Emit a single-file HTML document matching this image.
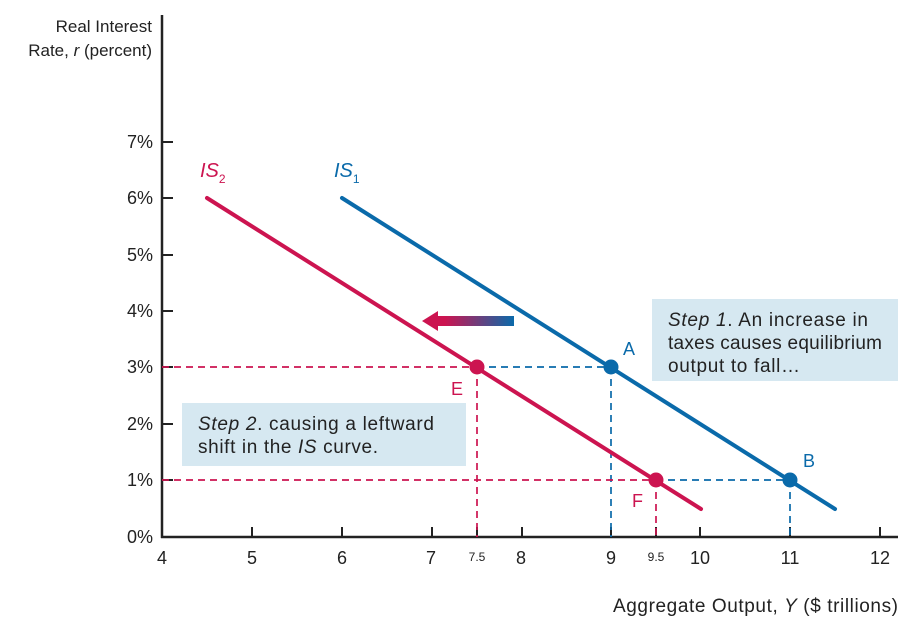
<!DOCTYPE html>
<html><head><meta charset="utf-8"><style>
body{margin:0;background:#fff}
svg{display:block;font-family:"Liberation Sans",sans-serif}
</style></head><body>
<svg width="917" height="623" viewBox="0 0 917 623">
<defs><linearGradient id="g" x1="0" x2="1"><stop offset="0.1" stop-color="#cc1450"/><stop offset="1" stop-color="#0a6aaa"/></linearGradient></defs>
<rect x="652" y="299" width="246" height="82" fill="#d6e8f1"/>
<rect x="182" y="403" width="284" height="63" fill="#d6e8f1"/>
<g stroke="#222" stroke-width="2.5" fill="none">
<line x1="162" y1="15" x2="162" y2="538"/>
<line x1="161" y1="537" x2="898" y2="537"/>
</g>
<g stroke="#222" stroke-width="2">
<line x1="162" y1="480" x2="173" y2="480"/><line x1="162" y1="424" x2="173" y2="424"/>
<line x1="162" y1="367" x2="173" y2="367"/><line x1="162" y1="311" x2="173" y2="311"/>
<line x1="162" y1="255" x2="173" y2="255"/><line x1="162" y1="198" x2="173" y2="198"/>
<line x1="162" y1="142" x2="173" y2="142"/>
<line x1="252" y1="537" x2="252" y2="527"/><line x1="342" y1="537" x2="342" y2="527"/>
<line x1="432" y1="537" x2="432" y2="527"/><line x1="477" y1="537" x2="477" y2="527"/>
<line x1="522" y1="537" x2="522" y2="527"/><line x1="611" y1="537" x2="611" y2="527"/>
<line x1="656" y1="537" x2="656" y2="527"/><line x1="700" y1="537" x2="700" y2="527"/>
<line x1="790" y1="537" x2="790" y2="527"/><line x1="880" y1="537" x2="880" y2="527"/>
</g>
<g stroke-width="1.7" stroke-dasharray="7,5" fill="none">
<line x1="162" y1="367" x2="477" y2="367" stroke="#cc1450"/>
<line x1="477" y1="367" x2="611" y2="367" stroke="#0a6aaa"/>
<line x1="477" y1="367" x2="477" y2="537" stroke="#cc1450"/>
<line x1="611" y1="367" x2="611" y2="537" stroke="#0a6aaa"/>
<line x1="162" y1="480" x2="656" y2="480" stroke="#cc1450"/>
<line x1="656" y1="480" x2="790" y2="480" stroke="#0a6aaa"/>
<line x1="656" y1="480" x2="656" y2="537" stroke="#cc1450"/>
<line x1="790" y1="480" x2="790" y2="537" stroke="#0a6aaa"/>
</g>
<line x1="342" y1="198" x2="835" y2="509" stroke="#0a6aaa" stroke-width="4" stroke-linecap="round"/>
<line x1="207" y1="198" x2="701" y2="509" stroke="#cc1450" stroke-width="4" stroke-linecap="round"/>
<circle cx="611" cy="367" r="7.5" fill="#0a6aaa"/><circle cx="790" cy="480" r="7.5" fill="#0a6aaa"/>
<circle cx="477" cy="367" r="7.5" fill="#cc1450"/><circle cx="656" cy="480" r="7.5" fill="#cc1450"/>
<rect x="437" y="316" width="77" height="10" fill="url(#g)"/>
<polygon points="422,321 438,311 438,331" fill="#cc1450"/>
<g font-size="17" fill="#222" text-anchor="end">
<text x="152" y="32">Real Interest</text>
<text x="152" y="56">Rate, <tspan font-style="italic">r</tspan> (percent)</text>
<text x="153" y="148" font-size="18">7%</text><text x="153" y="204" font-size="18">6%</text><text x="153" y="261" font-size="18">5%</text>
<text x="153" y="317" font-size="18">4%</text><text x="153" y="373" font-size="18">3%</text><text x="153" y="430" font-size="18">2%</text>
<text x="153" y="486" font-size="18">1%</text><text x="153" y="543" font-size="18">0%</text>
</g>
<g font-size="18" fill="#222" text-anchor="middle">
<text x="162" y="564">4</text><text x="252" y="564">5</text><text x="342" y="564">6</text>
<text x="431" y="564">7</text><text x="521" y="564">8</text><text x="611" y="564">9</text>
<text x="700" y="564">10</text><text x="790" y="564">11</text><text x="880" y="564">12</text>
<text x="477" y="561" font-size="12">7.5</text><text x="656" y="561" font-size="12">9.5</text>
</g>
<text x="613" y="612" font-size="19" fill="#222" textLength="285" lengthAdjust="spacing">Aggregate Output, <tspan font-style="italic">Y</tspan> ($ trillions)</text>
<text x="200" y="177" font-size="20" fill="#cc1450" font-style="italic">IS<tspan font-size="12" font-style="normal" dy="6">2</tspan></text>
<text x="334" y="177" font-size="20" fill="#0a6aaa" font-style="italic">IS<tspan font-size="12" font-style="normal" dy="6">1</tspan></text>
<text x="623" y="355" font-size="18" fill="#0a6aaa">A</text>
<text x="803" y="467" font-size="18" fill="#0a6aaa">B</text>
<text x="451" y="395" font-size="18" fill="#cc1450">E</text>
<text x="632" y="507" font-size="18" fill="#cc1450">F</text>
<g font-size="19" fill="#222">
<text x="668" y="326" textLength="200" lengthAdjust="spacing"><tspan font-style="italic">Step 1</tspan>. An increase in</text>
<text x="668" y="349" textLength="214" lengthAdjust="spacing">taxes causes equilibrium</text>
<text x="668" y="372" textLength="132" lengthAdjust="spacing">output to fall…</text>
<text x="198" y="430" textLength="236" lengthAdjust="spacing"><tspan font-style="italic">Step 2</tspan>. causing a leftward</text>
<text x="198" y="453" textLength="180" lengthAdjust="spacing">shift in the <tspan font-style="italic">IS</tspan> curve.</text>
</g>
</svg>
</body></html>
